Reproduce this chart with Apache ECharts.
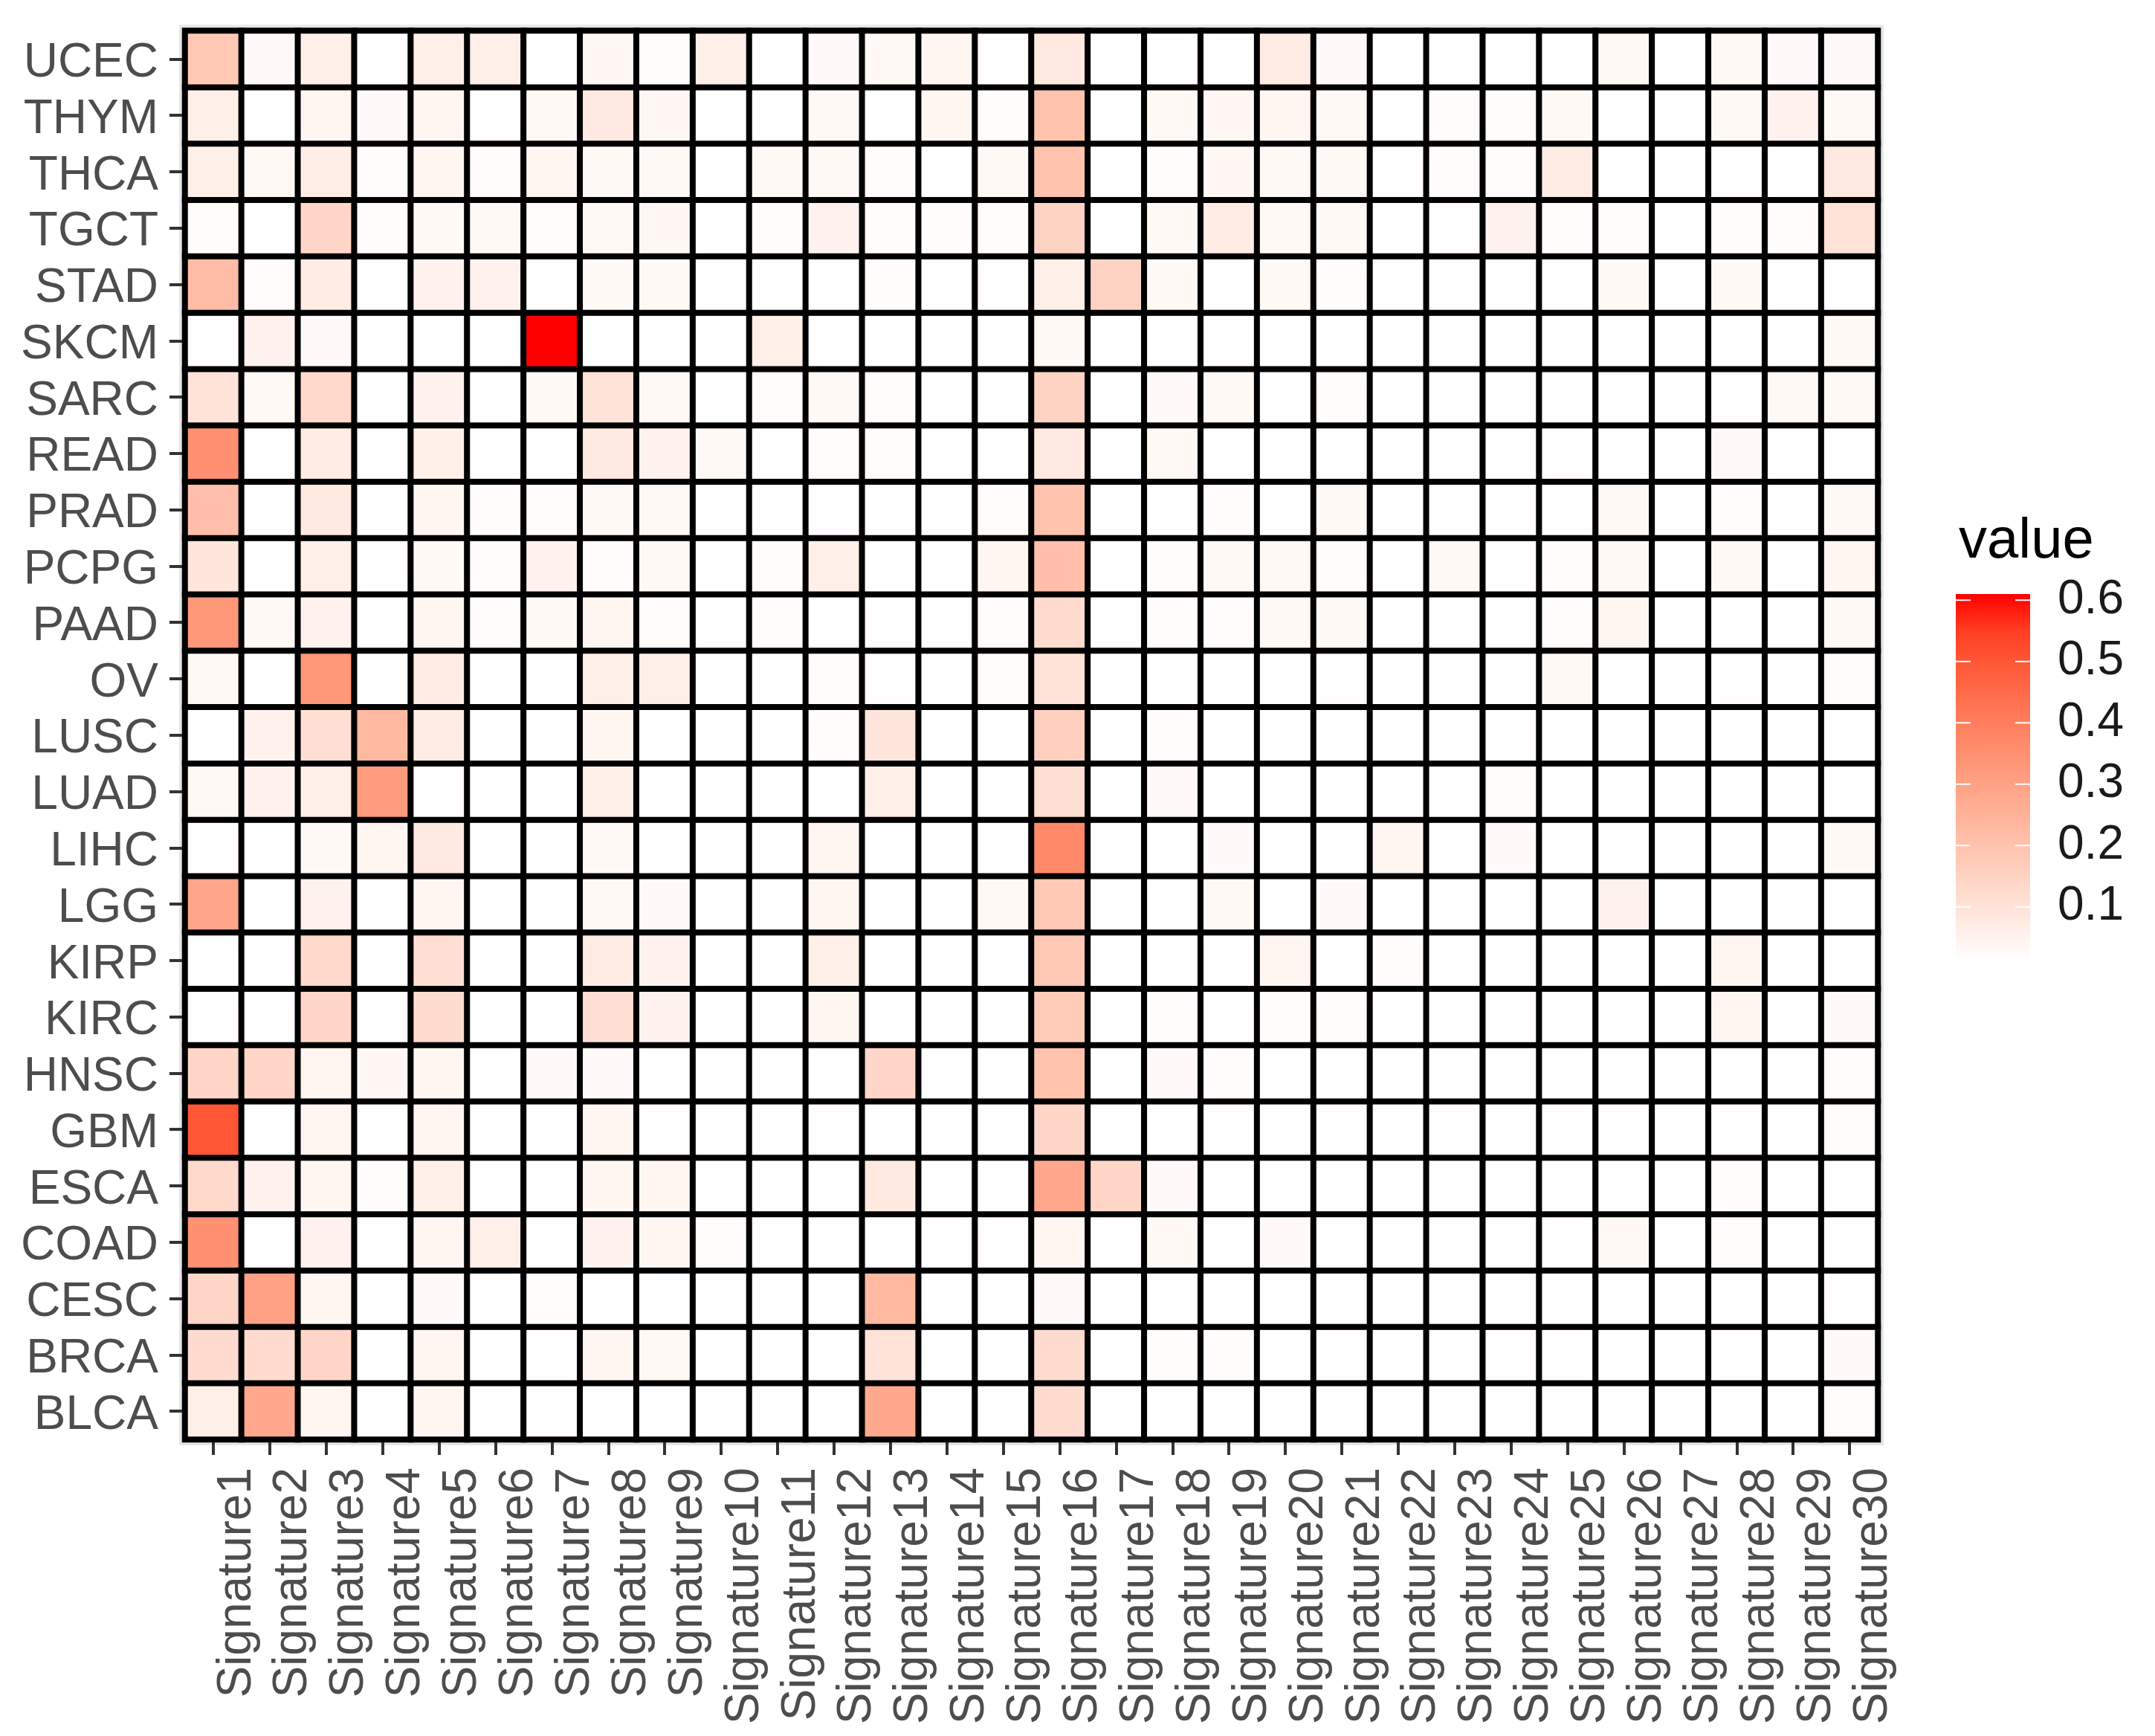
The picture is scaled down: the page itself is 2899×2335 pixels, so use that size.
<!DOCTYPE html>
<html>
<head>
<meta charset="utf-8">
<script src="https://cdn.jsdelivr.net/npm/echarts@6/dist/echarts.min.js"></script>
<style>
html,body{margin:0;padding:0;background:#fff;}
#chart{width:2899px;height:2335px;}
</style>
</head>
<body>
<div id="chart"></div>
<script>
// ---------------- DATA ----------------
const signatures = ['Signature1','Signature2','Signature3','Signature4','Signature5','Signature6','Signature7','Signature8','Signature9','Signature10',
  'Signature11','Signature12','Signature13','Signature14','Signature15','Signature16','Signature17','Signature18','Signature19','Signature20',
  'Signature21','Signature22','Signature23','Signature24','Signature25','Signature26','Signature27','Signature28','Signature29','Signature30'];

// bottom to top
const cancers = ['BLCA','BRCA','CESC','COAD','ESCA','GBM','HNSC','KIRC','KIRP','LGG','LIHC','LUAD','LUSC','OV','PAAD','PCPG','PRAD','READ','SARC','SKCM','STAD','TGCT','THCA','THYM','UCEC'];

const UCEC = [0.18,0.025,0.06,0.01,0.06,0.06,0.01,0.035,0.02,0.06, 0.01,0.025,0.03,0.04,0.015, 0.08,0.01,0.015,0.015,0.07, 0.025,0.01,0.01,0.01,0.01, 0.03,0.01,0.03,0.025,0.025];
const THYM = [0.06,0.01,0.04,0.025,0.04,0.015,0.03,0.08,0.035,0.01, 0.01,0.03,0.01,0.04,0.02, 0.2,0.01,0.03,0.035,0.04, 0.03,0.01,0.02,0.02,0.03, 0.01,0.01,0.03,0.05,0.03];
const THCA = [0.06,0.03,0.065,0.02,0.04,0.02,0.04,0.03,0.03,0.01, 0.03,0.03,0.02,0.01,0.03, 0.2,0.01,0.02,0.035,0.03, 0.03,0.015,0.02,0.02,0.07, 0.01,0.01,0.015,0.01,0.08];
const TGCT = [0.02,0.01,0.14,0.02,0.03,0.03,0.02,0.03,0.035,0.01, 0.02,0.05,0.02,0.02,0.02, 0.15,0.01,0.03,0.07,0.03, 0.03,0.01,0.015,0.05,0.02, 0.02,0.01,0.02,0.02,0.1];
const STAD = [0.22,0.02,0.07,0.01,0.05,0.05,0.01,0.03,0.03,0.01, 0.01,0.01,0.02,0.01,0.015, 0.06,0.15,0.03,0.01,0.03, 0.02,0.01,0.01,0.01,0.01, 0.03,0.01,0.03,0.01,0.01];
const SKCM = [0.015,0.05,0.025,0.01,0.01,0.01,0.61,0.01,0.01,0.01, 0.06,0.01,0.01,0.01,0.01, 0.03,0.01,0.01,0.015,0.01, 0.01,0.01,0.01,0.01,0.01, 0.01,0.01,0.01,0.01,0.03];
const SARC = [0.1,0.03,0.13,0.01,0.05,0.01,0.03,0.1,0.03,0.01, 0.02,0.03,0.02,0.01,0.01, 0.15,0.01,0.025,0.03,0.01, 0.02,0.01,0.01,0.01,0.01, 0.015,0.01,0.015,0.03,0.03];
const READ = [0.35,0.01,0.07,0.01,0.06,0.01,0.01,0.08,0.05,0.03, 0.01,0.02,0.02,0.01,0.01, 0.08,0.01,0.03,0.01,0.01, 0.01,0.01,0.01,0.01,0.015, 0.01,0.01,0.025,0.01,0.01];
const PRAD = [0.21,0.01,0.08,0.01,0.04,0.02,0.02,0.03,0.03,0.01, 0.01,0.015,0.01,0.01,0.02, 0.2,0.01,0.01,0.02,0.01, 0.03,0.01,0.015,0.015,0.015, 0.03,0.01,0.02,0.01,0.03];
const PCPG = [0.09,0.01,0.06,0.015,0.03,0.02,0.05,0.02,0.03,0.01, 0.02,0.06,0.01,0.01,0.04, 0.21,0.01,0.02,0.03,0.03, 0.02,0.01,0.03,0.015,0.02, 0.03,0.01,0.03,0.015,0.04];
const PAAD = [0.33,0.03,0.05,0.01,0.04,0.02,0.03,0.04,0.02,0.015, 0.02,0.01,0.015,0.015,0.02, 0.12,0.015,0.02,0.02,0.03, 0.03,0.01,0.01,0.01,0.02, 0.04,0.01,0.01,0.01,0.03];
const OV   = [0.03,0.01,0.33,0.01,0.07,0.01,0.01,0.06,0.06,0.01, 0.01,0.02,0.015,0.01,0.02, 0.1,0.01,0.01,0.01,0.01, 0.015,0.01,0.01,0.01,0.03, 0.01,0.01,0.015,0.01,0.02];
const LUSC = [0.01,0.05,0.11,0.23,0.07,0.01,0.01,0.04,0.01,0.01, 0.01,0.02,0.09,0.01,0.01, 0.16,0.01,0.02,0.01,0.01, 0.01,0.01,0.015,0.015,0.015, 0.01,0.01,0.01,0.015,0.01];
const LUAD = [0.03,0.05,0.06,0.32,0.015,0.01,0.01,0.06,0.01,0.01, 0.01,0.01,0.06,0.01,0.01, 0.11,0.01,0.025,0.01,0.01, 0.01,0.01,0.01,0.02,0.01, 0.01,0.01,0.01,0.01,0.01];
const LIHC = [0.015,0.01,0.03,0.04,0.08,0.01,0.01,0.03,0.015,0.01, 0.01,0.04,0.01,0.01,0.01, 0.37,0.01,0.01,0.025,0.01, 0.01,0.04,0.01,0.025,0.01, 0.015,0.01,0.01,0.01,0.03];
const LGG  = [0.29,0.01,0.05,0.01,0.04,0.01,0.01,0.03,0.025,0.01, 0.01,0.04,0.01,0.01,0.03, 0.18,0.01,0.01,0.03,0.01, 0.025,0.01,0.015,0.01,0.01, 0.05,0.01,0.015,0.01,0.01];
const KIRP = [0.01,0.015,0.13,0.01,0.11,0.01,0.01,0.07,0.05,0.01, 0.01,0.06,0.01,0.01,0.01, 0.18,0.01,0.01,0.015,0.04, 0.01,0.02,0.01,0.01,0.015, 0.015,0.01,0.04,0.01,0.01];
const KIRC = [0.015,0.015,0.14,0.015,0.12,0.01,0.015,0.11,0.05,0.01, 0.01,0.04,0.01,0.01,0.01, 0.17,0.01,0.02,0.015,0.02, 0.02,0.01,0.015,0.015,0.015, 0.015,0.01,0.04,0.01,0.025];
const HNSC = [0.14,0.14,0.04,0.035,0.04,0.01,0.025,0.025,0.01,0.01, 0.01,0.01,0.14,0.01,0.01, 0.2,0.01,0.025,0.02,0.01, 0.01,0.01,0.01,0.01,0.01, 0.01,0.01,0.01,0.01,0.02];
const GBM  = [0.5,0.01,0.04,0.01,0.04,0.01,0.01,0.04,0.015,0.01, 0.01,0.015,0.01,0.01,0.01, 0.14,0.01,0.01,0.015,0.01, 0.015,0.01,0.015,0.01,0.015, 0.015,0.01,0.015,0.01,0.02];
const ESCA = [0.13,0.05,0.04,0.02,0.06,0.01,0.01,0.04,0.04,0.01, 0.01,0.01,0.08,0.01,0.01, 0.28,0.14,0.025,0.01,0.01, 0.01,0.01,0.01,0.01,0.01, 0.01,0.01,0.02,0.01,0.01];
const COAD = [0.35,0.01,0.05,0.01,0.04,0.06,0.01,0.05,0.04,0.02, 0.01,0.01,0.01,0.015,0.015, 0.04,0.015,0.03,0.01,0.025, 0.01,0.01,0.01,0.01,0.015, 0.03,0.01,0.02,0.01,0.01];
const CESC = [0.14,0.3,0.04,0.01,0.025,0.015,0.02,0.015,0.01,0.01, 0.01,0.01,0.23,0.01,0.01, 0.025,0.01,0.01,0.01,0.01, 0.01,0.01,0.01,0.01,0.01, 0.01,0.01,0.01,0.01,0.015];
const BRCA = [0.12,0.12,0.14,0.01,0.04,0.01,0.015,0.04,0.03,0.01, 0.01,0.01,0.1,0.01,0.01, 0.12,0.01,0.02,0.02,0.01, 0.015,0.01,0.01,0.015,0.015, 0.01,0.01,0.015,0.01,0.025];
const BLCA = [0.06,0.28,0.04,0.01,0.04,0.01,0.015,0.01,0.01,0.01, 0.01,0.01,0.28,0.01,0.01, 0.12,0.01,0.01,0.01,0.01, 0.01,0.01,0.01,0.01,0.01, 0.01,0.01,0.01,0.01,0.02];

// rows in the same order as `cancers` (bottom to top)
const rows = [BLCA,BRCA,CESC,COAD,ESCA,GBM,HNSC,KIRC,KIRP,LGG,LIHC,LUAD,LUSC,OV,PAAD,PCPG,PRAD,READ,SARC,SKCM,STAD,TGCT,THCA,THYM,UCEC];

const legendTicks = [0.1, 0.2, 0.3, 0.4, 0.5, 0.6];
const valueMin = 0.01;
const valueMax = 0.61;

// ---------------- STYLE / LAYOUT ----------------
// white -> red gradient interpolated in Lab space (like ggplot's scale_fill_gradient)
const palette = ['#FFFFFF','#FFECE5','#FFD9CB','#FFC6B2','#FFB299','#FF9E81','#FF8969','#FF7352','#FF5B3A','#FF3E22','#FF0000'];
const FONT = '"Liberation Sans", Arial, Helvetica, sans-serif';
const G = {left: 249, top: 41.5, width: 2277, height: 1894.5};
const BAR = {x: 2631, y: 799, w: 100, h: 495};

const heatData = [];
rows.forEach((row, yi) => row.forEach((v, xi) => heatData.push([xi, yi, v])));

function yOfValue(v) {
  return BAR.y + BAR.h - (v - valueMin) / (valueMax - valueMin) * BAR.h;
}

const graphics = [];
// light halo around the panel
graphics.push({
  type: 'rect', z: -10,
  shape: {x: G.left - 8, y: G.top - 8, width: G.width + 16, height: G.height + 16},
  style: {fill: '#E6E6E6'}
});
// colorbar
graphics.push({
  type: 'rect',
  shape: {x: BAR.x, y: BAR.y, width: BAR.w, height: BAR.h},
  style: {
    fill: new echarts.graphic.LinearGradient(0, 1, 0, 0,
      palette.map((c, i) => ({offset: i / (palette.length - 1), color: c})))
  }
});
legendTicks.forEach(t => {
  const y = yOfValue(t);
  graphics.push({type: 'line', shape: {x1: BAR.x, y1: y, x2: BAR.x + 20, y2: y}, style: {stroke: '#FFFFFF', lineWidth: 2}});
  graphics.push({type: 'line', shape: {x1: BAR.x + BAR.w - 20, y1: y, x2: BAR.x + BAR.w, y2: y}, style: {stroke: '#FFFFFF', lineWidth: 2}});
  graphics.push({
    type: 'text', x: 2768, y: y,
    style: {text: t.toFixed(1), font: '64px ' + FONT, fill: '#1A1A1A', verticalAlign: 'middle', align: 'left'}
  });
});
graphics.push({
  type: 'text', x: 2635, y: 729,
  style: {text: 'value', font: '76px ' + FONT, fill: '#000000', verticalAlign: 'middle', align: 'left'}
});

const chart = echarts.init(document.getElementById('chart'), null, {renderer: 'canvas'});
chart.setOption({
  backgroundColor: '#FFFFFF',
  animation: false,
  grid: {left: G.left, top: G.top, width: G.width, height: G.height, containLabel: false, outerBoundsMode: 'none', show: false},
  xAxis: {
    type: 'category', data: signatures,
    axisLine: {show: false},
    axisTick: {show: true, alignWithLabel: true, length: 21, lineStyle: {color: '#333333', width: 4}},
    axisLabel: {interval: 0, rotate: 90, margin: 38, verticalAlign: 'top', fontSize: 64, fontFamily: FONT, color: '#4D4D4D'},
    splitLine: {show: false}, splitArea: {show: false}
  },
  yAxis: {
    type: 'category', data: cancers,
    axisLine: {show: false},
    axisTick: {show: true, alignWithLabel: true, length: 21, lineStyle: {color: '#333333', width: 4}},
    axisLabel: {interval: 0, margin: 36, fontSize: 64, fontFamily: FONT, color: '#4D4D4D', verticalAlign: 'top', lineHeight: 12},
    splitLine: {show: false}, splitArea: {show: false}
  },
  visualMap: {
    type: 'continuous', show: false, dimension: 2, seriesIndex: 0,
    min: valueMin, max: valueMax,
    inRange: {color: palette},
    outOfRange: {color: '#FFFFFF'}
  },
  series: [{
    type: 'heatmap', data: heatData, z: 2,
    itemStyle: {borderColor: '#000000', borderWidth: 8},
    emphasis: {disabled: true}
  }],
  graphic: graphics
});
</script>
</body>
</html>
